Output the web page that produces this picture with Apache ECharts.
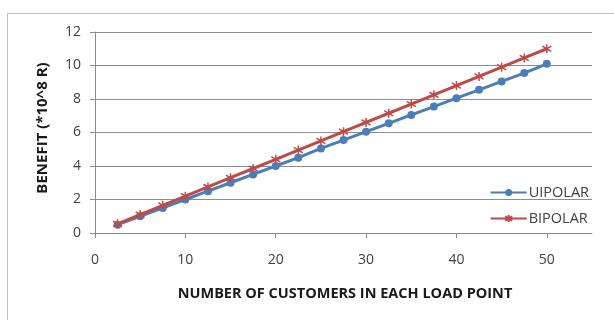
<!DOCTYPE html>
<html><head><meta charset="utf-8">
<script src="https://cdn.jsdelivr.net/npm/echarts@6/dist/echarts.min.js"></script>
<style>html,body{margin:0;padding:0;background:#fff}#c{width:614px;height:320px}</style>
</head><body><div id="c"></div>
<script>
var customers = [2.5,5,7.5,10,12.5,15,17.5,20,22.5,25,27.5,30,32.5,35,37.5,40,42.5,45,47.5,50];
var uipolar = [0.5,1.0,1.5,2.0,2.5,3.0,3.5,4.0,4.5,5.05,5.55,6.05,6.55,7.05,7.55,8.05,8.55,9.05,9.55,10.1];
var bipolar = [0.55,1.1,1.65,2.2,2.75,3.3,3.85,4.4,4.95,5.5,6.05,6.6,7.15,7.7,8.25,8.8,9.35,9.9,10.45,11.0];
var xTicks = [0,10,20,30,40,50];
var seriesNames = ['UIPOLAR','BIPOLAR'];
var yTitle = 'BENEFIT (*10^8 R)';
var xTitle = 'NUMBER OF CUSTOMERS IN EACH LOAD POINT';

var blue = '#4a7ebb', red = '#be4b48';
var font = '"Open Sans", "Liberation Sans", sans-serif';
var star = 'path://M5,0L5,10M0,2L10,8M10,2L0,8';
function pairs(xs, ys){ return xs.map(function(x,i){return [x, ys[i]];}); }

var chart = echarts.init(document.getElementById('c'));
chart.setOption({
  animation: false,
  textStyle: {fontFamily: font},
  grid: {left: 95, right: 22, top: 32, bottom: 87, containLabel: false},
  graphic: [
    {type:'rect', shape:{x:7.5,y:13.5,width:620,height:330}, style:{fill:'none',stroke:'#bfbfbf',lineWidth:1}, silent:true, z:-1},
    {type:'text', x:345, y:294, style:{text:xTitle, font:'bold 14.5px '+font, fill:'#1a1a1a', textAlign:'center', textVerticalAlign:'middle'}},
    {type:'text', x:43, y:128, rotation:Math.PI/2, style:{text:yTitle, font:'bold 15px '+font, fill:'#1a1a1a', textAlign:'center', textVerticalAlign:'middle'}}
  ],
  xAxis: {
    type:'value', min:0, max:55, interval:10,
    axisLine:{show:true, lineStyle:{color:'#8c8c8c', width:1}},
    axisTick:{show:true, customValues:xTicks, length:5, lineStyle:{color:'#8c8c8c'}},
    axisLabel:{customValues:xTicks, color:'#404040', fontSize:14, margin:20, fontFamily:font},
    splitLine:{show:false}
  },
  yAxis: {
    type:'value', min:0, max:12, interval:2,
    axisLine:{show:true, lineStyle:{color:'#8c8c8c', width:1}},
    axisTick:{show:true, length:5, lineStyle:{color:'#8c8c8c'}},
    axisLabel:{color:'#404040', fontSize:14, margin:14, fontFamily:font},
    splitLine:{show:true, lineStyle:{color:'#8c8c8c', width:1}}
  },
  legend: {
    orient:'vertical', right:20, top:180, itemWidth:36, itemHeight:9, itemGap:11,
    textStyle:{color:'#404040', fontSize:14.5, fontFamily:font, padding:[0,0,0,-3]},
    data: seriesNames
  },
  series: [
    {name:seriesNames[0], type:'line', data:pairs(customers, uipolar), symbol:'circle', symbolSize:8,
     lineStyle:{color:blue, width:3}, itemStyle:{color:blue}, z:2},
    {name:seriesNames[1], type:'line', data:pairs(customers, bipolar), symbol:star, symbolSize:9,
     lineStyle:{color:red, width:3}, itemStyle:{color:red, borderColor:red, borderWidth:1.5}, z:3}
  ]
});
</script></body></html>
